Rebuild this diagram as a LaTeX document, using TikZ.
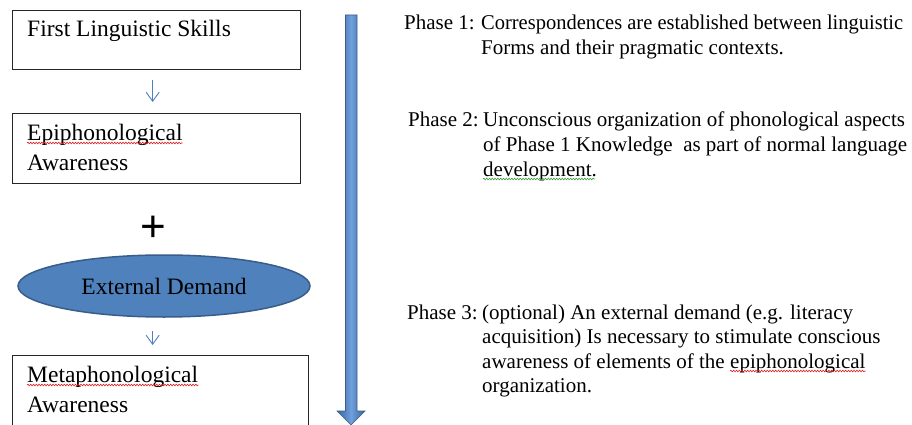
\documentclass[tikz,border=0pt]{standalone}
\usepackage{fontspec}
\usepackage{graphicx}
\setmainfont{Liberation Serif}
\newfontfamily\serifface{Liberation Serif}
\newfontfamily\plusfont{Liberation Sans}
\usetikzlibrary{arrows.meta,shapes.geometric,decorations.pathmorphing}
\definecolor{boxline}{HTML}{262626}
\definecolor{accent}{HTML}{4F81BD}
\definecolor{accentdark}{HTML}{385D8A}
\definecolor{arrowedge}{HTML}{3A64A0}
\definecolor{arrowmid}{HTML}{6F9FDC}
\definecolor{spellred}{HTML}{E02020}
\definecolor{grammargreen}{HTML}{3CA03C}
\newcommand\leftfont{\serifface\fontsize{23.5}{28}\selectfont}
\newcommand\rightfont{\serifface\fontsize{21}{24}\selectfont}
\newcommand\fitwidth[2]{\resizebox{#1}{\height}{#2}}
\begin{document}
\begin{tikzpicture}[x=1pt,y=-1pt,
  box/.style={draw=boxline,line width=1.3pt,rectangle,inner sep=0pt,anchor=north west},
  lefttext/.style={inner sep=0pt,anchor=base west,font=\leftfont,text=black},
  righttext/.style={inner sep=0pt,anchor=base west,font=\rightfont,text=black},
  smallarrow/.style={draw=accent,line width=0.9pt,-{Straight Barb[length=9pt,width=13pt]}},
  squig/.style={line width=0.6pt,decorate,decoration={snake,amplitude=0.8pt,segment length=2.8pt}}]
\fill[white] (0,0) rectangle (912,425);
\clip (0,0) rectangle (912,425);
% left column boxes
\node[box,minimum width=288pt,minimum height=59pt] (b1) at (12,10) {};
\node[box,minimum width=288pt,minimum height=70pt] (b2) at (12,113) {};
\node[box,minimum width=296pt,minimum height=90pt] (b3) at (12,355) {};
\node[lefttext] (t1) at (27,37) {First Linguistic Skills};
\node[lefttext] (t2a) at (27,140) {Epiphonological};
\node[lefttext] (t2b) at (27,170) {Awareness};
\node[lefttext] (t3a) at (27,382) {Metaphonological};
\node[lefttext] (t3b) at (27,412) {Awareness};
\node[font=\plusfont\fontsize{44}{44}\selectfont,inner sep=0pt] (plus) at (153,229) {+};
\node[ellipse,fill=accent,draw=accentdark,line width=1.5pt,minimum width=292pt,
      minimum height=62pt,inner sep=0pt,font=\leftfont] (ed) at (164,286) {External Demand};
% small arrows
\draw[smallarrow,shorten <=10pt,shorten >=11pt] ([xshift=-4pt]b1.south) -- ([xshift=-4pt]b2.north);
\draw[smallarrow,shorten <=13pt,shorten >=10pt] ([xshift=-8pt]b3.north |- ed.south) -- ([xshift=-8pt]b3.north);
% big arrow
\draw[left color=arrowedge,right color=arrowedge,middle color=arrowmid,draw=accentdark,line width=0.6pt]
  (345.5,15) -- (357,15) -- (357,411) -- (365,411) -- (351,425) -- (337,411) -- (345.5,411) -- cycle;
% right column text
\node[righttext] (p1) at (404,30) {Phase 1:};
\node[righttext] (p1a) at (481,30) {\fitwidth{422pt}{Correspondences are established between linguistic}};
\node[righttext] (p1b) at (481,54.5) {Forms and their pragmatic contexts.};
\node[righttext] (p2) at (408,127) {Phase 2:};
\node[righttext] (p2a) at (483,127) {Unconscious organization of phonological aspects};
\node[righttext] (p2b) at (483,151.5) {of Phase 1 Knowledge\ \ as part of normal language};
\node[righttext] (p2c) at (483,176) {development.};
\node[righttext] (p3) at (407,319) {Phase 3:};
\node[righttext] (p3a) at (482,319) {(optional) An external demand (e.g. literacy};
\node[righttext] (p3b) at (482,343.5) {acquisition) Is necessary to stimulate conscious};
\node[righttext] (p3c) at (482,368) {awareness of elements of the};
\node[righttext] (p3d) at ([xshift=5pt]p3c.base east) {epiphonological};
\node[righttext] (p3e) at (482,392.5) {organization.};
% proofing underlines
\draw[squig,spellred] ([yshift=-3pt]t2a.base west) -- ([yshift=-3pt]t2a.base east);
\draw[squig,spellred] ([yshift=-3pt]t3a.base west) -- ([yshift=-3pt]t3a.base east);
\draw[squig,spellred] ([yshift=-3pt]p3d.base west) -- ([yshift=-3pt]p3d.base east);
\draw[squig,grammargreen] ([yshift=-3pt]p2c.base west) -- ([yshift=-3pt,xshift=-2pt]p2c.base east);
\end{tikzpicture}
\end{document}
